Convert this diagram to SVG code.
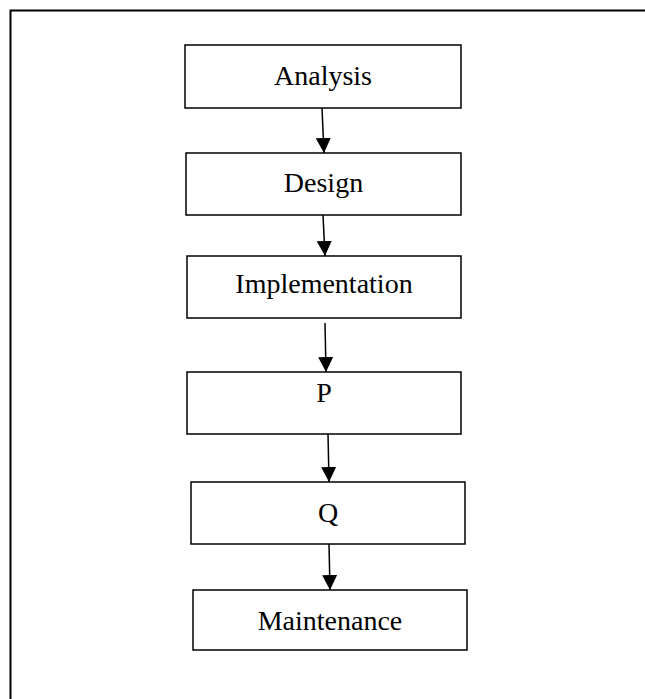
<svg xmlns="http://www.w3.org/2000/svg" width="645" height="699" viewBox="0 0 645 699">
<defs>
<style>
.box{fill:#fff;stroke:#000;stroke-width:1.5}
.lbl{font-family:"Liberation Serif","Times New Roman",serif;font-size:28px;fill:#000;text-anchor:middle}
.conn{stroke:#000;stroke-width:1.5;fill:none;marker-end:url(#ah)}
</style>
<marker id="ah" markerWidth="15" markerHeight="15" refX="15" refY="7.5" orient="auto" markerUnits="userSpaceOnUse" viewBox="0 0 15 15">
<path d="M0,0 L15,7.5 L0,15 Z" fill="#000"/>
</marker>
</defs>
<rect width="645" height="699" fill="#fff"/>
<path d="M10.5,699 V10.5 H645" fill="none" stroke="#000" stroke-width="2"/>
<g id="analysis"><rect class="box" x="185" y="45" width="276" height="63"/><text class="lbl" x="323" y="85">Analysis</text></g>
<g id="design"><rect class="box" x="186" y="153" width="275" height="62"/><text class="lbl" x="323.5" y="192">Design</text></g>
<g id="implementation"><rect class="box" x="187" y="256" width="274" height="62"/><text class="lbl" x="324" y="293">Implementation</text></g>
<g id="p"><rect class="box" x="187" y="372" width="274" height="62"/><text class="lbl" x="324" y="402">P</text></g>
<g id="q"><rect class="box" x="191" y="482" width="274" height="62"/><text class="lbl" x="328" y="522">Q</text></g>
<g id="maintenance"><rect class="box" x="193" y="590" width="274" height="60"/><text class="lbl" x="330" y="630">Maintenance</text></g>
<g id="connectors">
<line class="conn" x1="322" y1="108" x2="324" y2="153"/>
<line class="conn" x1="323" y1="215" x2="325" y2="256"/>
<line class="conn" x1="325" y1="323" x2="326" y2="372"/>
<line class="conn" x1="328" y1="434" x2="329" y2="482"/>
<line class="conn" x1="329" y1="544" x2="330" y2="590"/>
</g>
</svg>
